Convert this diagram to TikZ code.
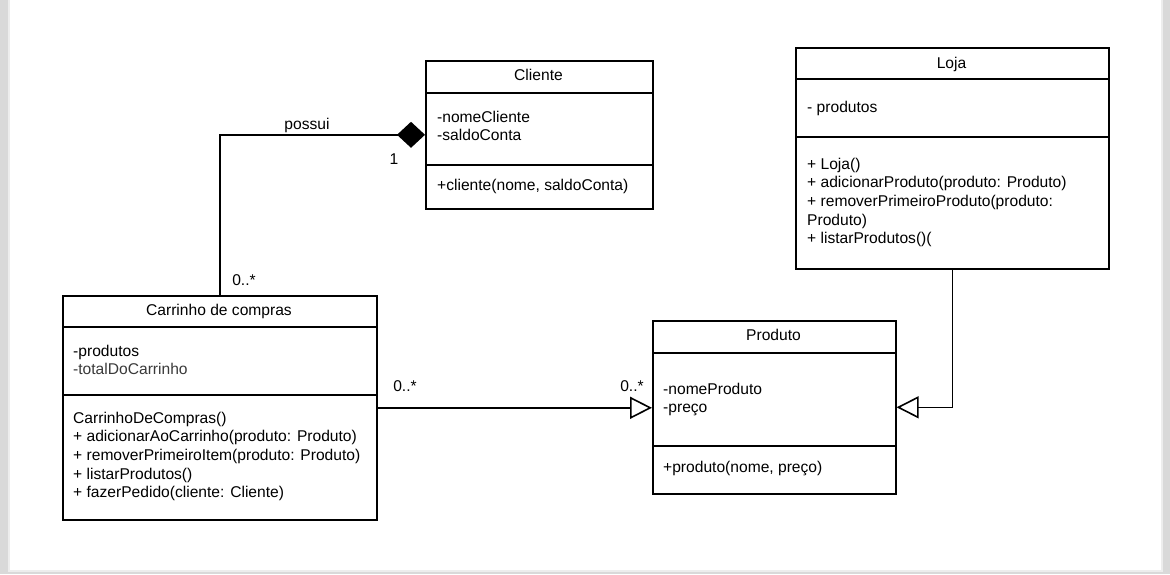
\documentclass[tikz,border=0pt]{standalone}
\usepackage{fontspec}
\setmainfont{Liberation Sans}
\usetikzlibrary{arrows.meta}
\definecolor{pagegray}{HTML}{D9D9D9}
\definecolor{edgegray}{HTML}{EDEDED}
\definecolor{attrgray}{HTML}{3A3A3A}
\newcommand{\umlrows}[1]{\begin{tabular}[t]{@{}l@{}}#1\end{tabular}}
\begin{document}
\begin{tikzpicture}[x=1pt,y=-1pt,
  font=\fontsize{15.6}{18.7}\selectfont,
  classbox/.style={draw, line width=1.6pt, inner sep=0pt, anchor=north west, fill=white},
  divider/.style={line width=1.6pt},
  titletext/.style={anchor=base, inner sep=0pt},
  membertext/.style={anchor=base west, inner sep=0pt},
  labeltext/.style={anchor=base, inner sep=0pt},
  connector/.style={line width=1.6pt, line join=miter},
  composition/.style={connector, -{Diamond[length=28pt,width=26pt,fill=black]}},
  association/.style={connector, -{Triangle[open,length=22pt,width=22pt,fill=white]}},
  inheritance/.style={connector, -{Triangle[open,length=22pt,width=22pt,fill=white]}}
]
\useasboundingbox (0,0) rectangle (1170,574);
% page
\fill[pagegray] (0,0) rectangle (1170,574);
\fill[edgegray] (8,-2) rectangle (1163,572);
\fill[white] (10,-2) rectangle (1161,569.5);

% Cliente
\node[classbox, minimum width=227pt, minimum height=148pt] (cli) at (425,60) {};
\draw[divider] (425,93) -- (652,93);
\draw[divider] (425,165) -- (652,165);
\node[titletext] (cliT) at (538.5,80) {Cliente};
\node[membertext] (cliA) at (437,122) {\umlrows{-nomeCliente\\-saldoConta}};
\node[membertext] (cliM) at (437,190) {+cliente(nome, saldoConta)};

% Loja
\node[classbox, minimum width=313pt, minimum height=221pt] (loja) at (795,47) {};
\draw[divider] (795,79) -- (1108,79);
\draw[divider] (795,137) -- (1108,137);
\node[titletext] (lojaT) at (951.5,68) {Loja};
\node[membertext] (lojaA) at (807,112) {- produtos};
\node[membertext] (lojaM) at (807,169) {\umlrows{+ Loja()\\+ adicionarProduto(produto: Produto)\\+ removerPrimeiroProduto(produto:\\Produto)\\+ listarProdutos()(}};

% Carrinho
\node[classbox, minimum width=314pt, minimum height=224pt] (carr) at (62,295) {};
\draw[divider] (62,327) -- (376,327);
\draw[divider] (62,395) -- (376,395);
\node[titletext] (carrT) at (219,315) {Carrinho de compras};
\node[membertext] (carrA) at (73,356) {\umlrows{-produtos\\\textcolor{attrgray}{-totalDoCarrinho}}};
\node[membertext] (carrM) at (73,423) {\umlrows{CarrinhoDeCompras()\\+ adicionarAoCarrinho(produto: Produto)\\+ removerPrimeiroItem(produto: Produto)\\+ listarProdutos()\\+ fazerPedido(cliente: Cliente)}};

% Produto
\node[classbox, minimum width=243pt, minimum height=173pt] (prod) at (652,320) {};
\draw[divider] (652,353) -- (895,353);
\draw[divider] (652,446) -- (895,446);
\node[titletext] (prodT) at (773.5,340) {Produto};
\node[membertext] (prodA) at (663,394) {\umlrows{-nomeProduto\\-preço}};
\node[membertext] (prodM) at (663,472) {+produto(nome, preço)};

% connectors
\draw[composition] (carr.north) |- (cli.west);
\draw[association] (carr.east) -- (carr.east -| prod.west);
\draw[inheritance] (loja.south) |- (prod.east);

% labels
\node[labeltext] (possui) at (307,129) {possui};
\node[labeltext] (one) at (394,164) {1};
\node[labeltext] (mCarrTop) at (244,285) {0..*};
\node[labeltext] (mCarrRight) at (405,391) {0..*};
\node[labeltext] (mProdLeft) at (632,391) {0..*};
\end{tikzpicture}
\end{document}
